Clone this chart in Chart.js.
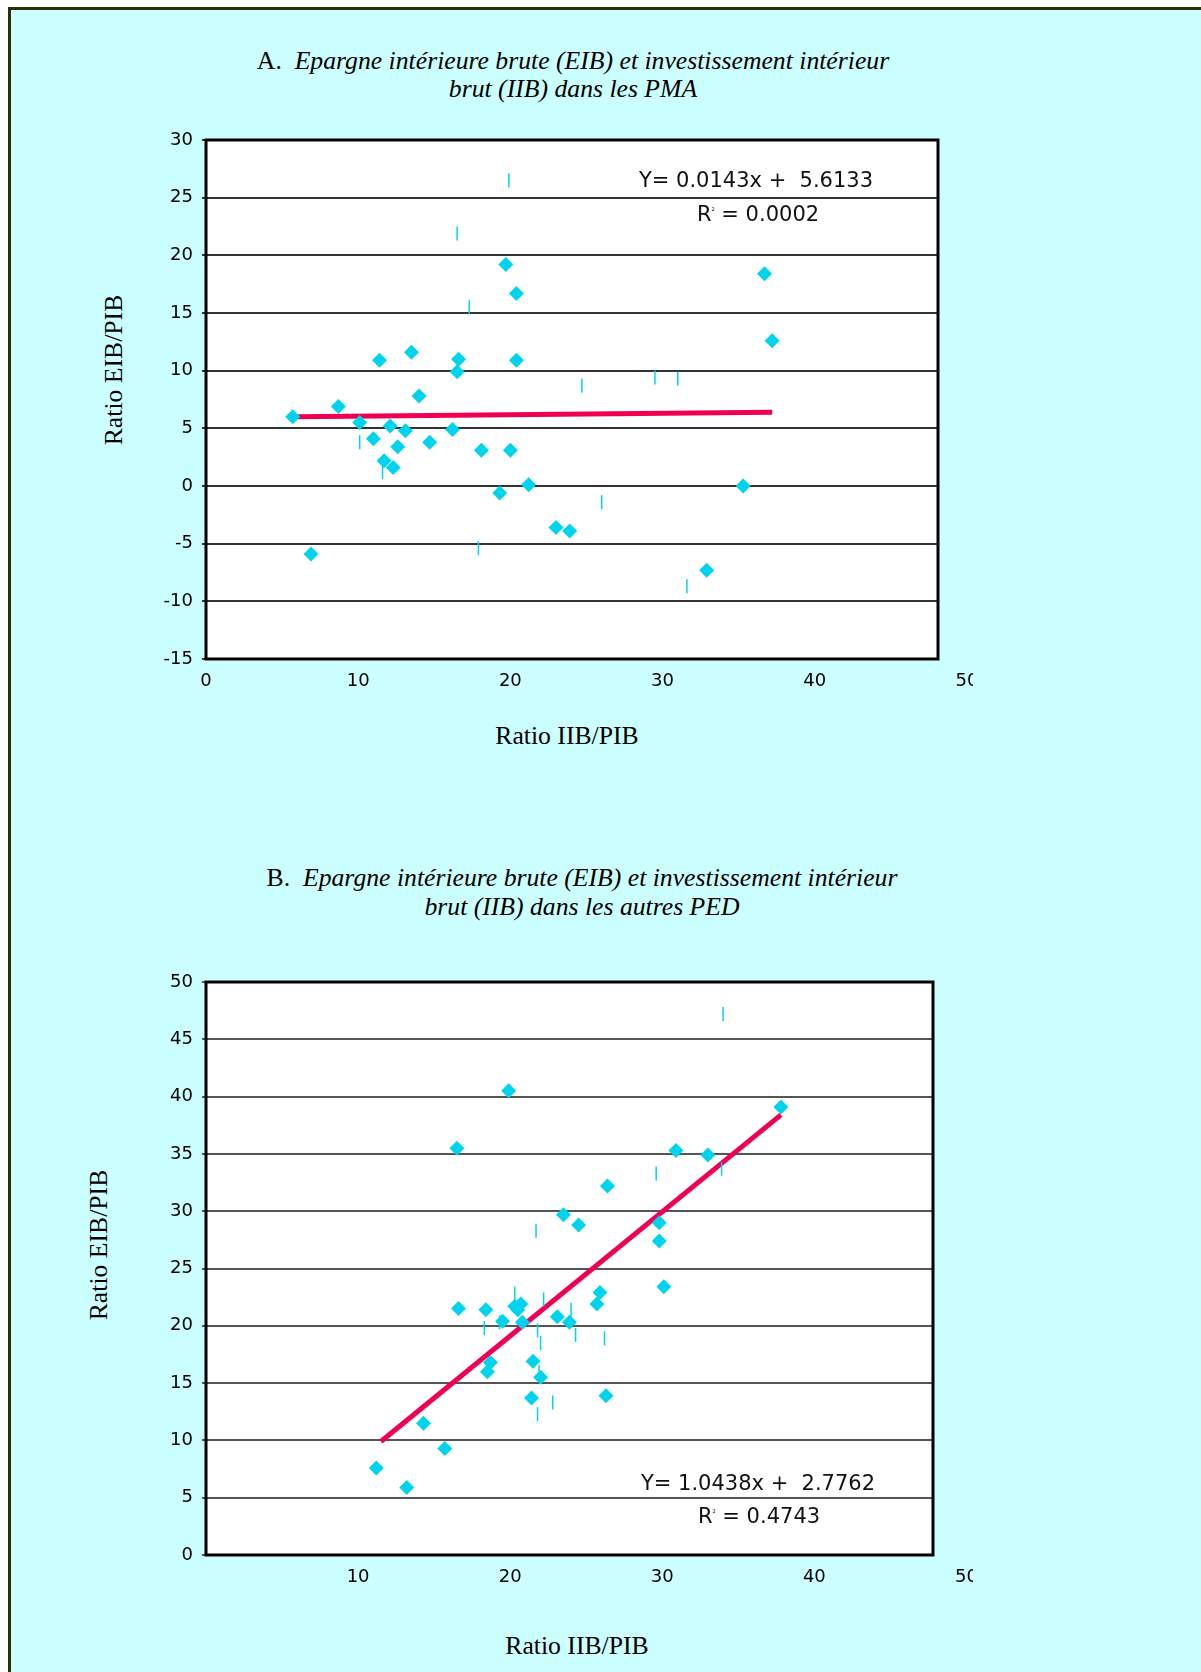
<!DOCTYPE html>
<html>
<head>
<meta charset="utf-8">
<script src="https://cdn.jsdelivr.net/npm/chart.js@4.4.0/dist/chart.umd.min.js"></script>
<style>
html, body { margin:0; padding:0; background:#fff; }
body { width:1201px; height:1672px; position:relative; overflow:hidden; }
#page { position:absolute; left:8px; top:7px; right:0; bottom:0; background:#CCFFFF;
        border-left:3px solid #2e2e08; border-top:3px solid #2e2e08; }
.t { position:absolute; font-family:"Liberation Serif","Times New Roman",serif; font-size:25.7px; color:#000;
     white-space:pre; transform:translate(-50%,-50%); line-height:1; }
.rot { transform:translate(-50%,-50%) rotate(-90deg); }
.eq { position:absolute; font-family:"DejaVu Sans",sans-serif; font-size:21px; color:#111;
      white-space:pre; transform:translate(-50%,-50%); line-height:1; }
.eq sup { font-size:5px; vertical-align:10px; }
canvas { position:absolute; left:0; }
#chartA { top:100px; }
#chartB { top:940px; }
</style>
</head>
<body>
<div id="page"></div>

<div class="t" style="left:573px;top:61px">A.  <i>Epargne intérieure brute (EIB) et investissement intérieur</i></div>
<div class="t" style="left:573px;top:89px"><i>brut (IIB) dans les PMA</i></div>
<div class="t rot" style="left:114px;top:370px">Ratio EIB/PIB</div>
<div class="t" style="left:567px;top:736px">Ratio IIB/PIB</div>

<div class="t" style="left:582px;top:878px">B.  <i>Epargne intérieure brute (EIB) et investissement intérieur</i></div>
<div class="t" style="left:582px;top:907px"><i>brut (IIB) dans les autres PED</i></div>
<div class="t rot" style="left:99px;top:1245px">Ratio EIB/PIB</div>
<div class="t" style="left:577px;top:1646px">Ratio IIB/PIB</div>

<canvas id="chartA" width="973" height="620"></canvas>
<canvas id="chartB" width="973" height="660"></canvas>

<div class="eq" style="left:756px;top:180px">Y= 0.0143x +  5.6133</div>
<div class="eq" style="left:758px;top:214px">R<sup>2</sup> = 0.0002</div>
<div class="eq" style="left:758px;top:1483px">Y= 1.0438x +  2.7762</div>
<div class="eq" style="left:759px;top:1516px">R<sup>2</sup> = 0.4743</div>

<script>
// A : PMA
var pmaX = [5.7, 6.9, 8.7, 10.1, 11.0, 11.4, 11.7, 12.1, 12.3, 12.6, 13.1, 13.5, 14.0, 14.7, 16.2,
            16.5, 16.6, 18.1, 19.3, 19.7, 20.0, 20.4, 20.4, 21.2, 23.0, 23.9, 32.9, 35.3, 36.7, 37.2];
var pmaY = [6.0, -5.9, 6.9, 5.5, 4.1, 10.9, 2.2, 5.2, 1.6, 3.4, 4.8, 11.6, 7.8, 3.8, 4.9,
            9.9, 11.0, 3.1, -0.6, 19.2, 3.1, 16.7, 10.9, 0.1, -3.6, -3.9, -7.3, 0.0, 18.4, 12.6];
var pmaMarkX = [19.9, 16.5, 17.3, 10.1, 11.6, 17.9, 26.0, 31.6, 24.7, 29.5, 31.0];
var pmaMarkY = [26.5, 21.9, 15.5, 3.8, 1.2, -5.4, -1.4, -8.7, 8.7, 9.4, 9.3];
var pmaTrendX = [6.0, 37.2];
var pmaTrendY = [6.0, 6.4];
var xTicksA = [0, 10, 20, 30, 40, 50];

// B : autres PED
var pedX = [19.9, 16.5, 37.8, 30.9, 33.0, 26.4, 23.5, 24.5, 29.8, 29.8, 30.1, 25.9, 25.7, 23.1, 23.9, 16.6,
            18.4, 19.5, 20.3, 20.7, 20.5, 20.8, 18.7, 18.5, 21.5, 22.0, 21.4, 26.3, 14.3, 15.7, 11.2, 13.2];
var pedY = [40.5, 35.5, 39.1, 35.3, 34.9, 32.2, 29.7, 28.8, 29.0, 27.4, 23.4, 22.9, 21.9, 20.8, 20.3, 21.5,
            21.4, 20.4, 21.7, 21.9, 21.4, 20.3, 16.8, 16.0, 16.9, 15.5, 13.7, 13.9, 11.5, 9.3, 7.6, 5.9];
var pedMarkX = [34.0, 29.6, 33.9, 21.7, 20.3, 22.2, 24.0, 18.3, 19.3, 21.8, 22.0, 24.3, 26.2, 21.9, 22.8, 21.8];
var pedMarkY = [47.2, 33.3, 33.7, 28.3, 22.8, 22.3, 21.4, 19.8, 20.3, 19.6, 18.5, 19.2, 18.9, 16.0, 13.3, 12.3];
var pedTrendX = [11.5, 37.8];
var pedTrendY = [9.9, 38.4];
var xTicksB = [10, 20, 30, 40, 50];

var cyan = '#00D4EC';
var red = '#F00055';
var tickFont = { family: 'DejaVu Sans', size: 18 };

function pts(xs, ys) {
  return xs.map(function(x, i){ return { x: x, y: ys[i] }; });
}

// white plot area + thick black frame
var framePlugin = {
  id: 'frame',
  beforeDraw: function(chart) {
    var a = chart.chartArea, c = chart.ctx;
    c.save();
    c.fillStyle = '#fff';
    c.fillRect(a.left, a.top, a.right - a.left, a.bottom - a.top);
    c.restore();
  },
  beforeDatasetsDraw: function(chart) {
    var a = chart.chartArea, c = chart.ctx;
    c.save();
    c.strokeStyle = '#000';
    c.lineWidth = 3;
    c.strokeRect(a.left, a.top, a.right - a.left, a.bottom - a.top);
    c.restore();
  }
};

function makeChart(id, o) {
  return new Chart(document.getElementById(id), {
    type: 'scatter',
    data: {
      datasets: [
        { data: pts(o.x, o.y), pointStyle: 'rectRot', pointRadius: 7.5, pointHoverRadius: 7.5,
          pointBackgroundColor: cyan, pointBorderWidth: 0, order: 1 },
        { data: pts(o.mx, o.my), pointStyle: 'line', pointRotation: 90, pointRadius: 7, pointHoverRadius: 7,
          pointBorderColor: cyan, pointBorderWidth: 1.5, order: 2 },
        { data: pts(o.lx, o.ly), showLine: true, borderColor: red, borderWidth: 5, pointRadius: 0, order: 3 }
      ]
    },
    options: {
      responsive: false,
      animation: false,
      events: [],
      layout: { padding: { left: 0, top: o.top, right: o.right, bottom: 0 } },
      plugins: { legend: { display: false }, tooltip: { enabled: false } },
      scales: {
        x: {
          type: 'linear', min: 0, max: o.xMax,
          grid: { display: false, drawTicks: false },
          border: { display: false },
          afterBuildTicks: function(s) { s.ticks = o.xTicks.map(function(v){ return { value: v }; }); },
          afterFit: function(s) { s.height = o.xH; s.paddingLeft = 0; s.paddingRight = 0; },
          ticks: { autoSkip: false, maxRotation: 0, padding: 12, color: '#000', font: tickFont }
        },
        y: {
          min: o.yMin, max: o.yMax,
          afterFit: function(s) { s.width = 206; s.paddingTop = 0; s.paddingBottom = 0; },
          grid: { color: o.gridColor, lineWidth: 2, tickLength: 4 },
          border: { display: false },
          ticks: { stepSize: 5, padding: 9, color: '#000', font: tickFont }
        }
      }
    },
    plugins: [framePlugin]
  });
}

makeChart('chartA', {
  x: pmaX, y: pmaY, mx: pmaMarkX, my: pmaMarkY, lx: pmaTrendX, ly: pmaTrendY,
  xTicks: xTicksA, xMax: 48.1, yMin: -15, yMax: 30,
  top: 40, right: 35, xH: 61, gridColor: '#333'
});

makeChart('chartB', {
  x: pedX, y: pedY, mx: pedMarkX, my: pedMarkY, lx: pedTrendX, ly: pedTrendY,
  xTicks: xTicksB, xMax: 47.8, yMin: 0, yMax: 50,
  top: 42, right: 40, xH: 45, gridColor: '#555'
});
</script>
</body>
</html>
